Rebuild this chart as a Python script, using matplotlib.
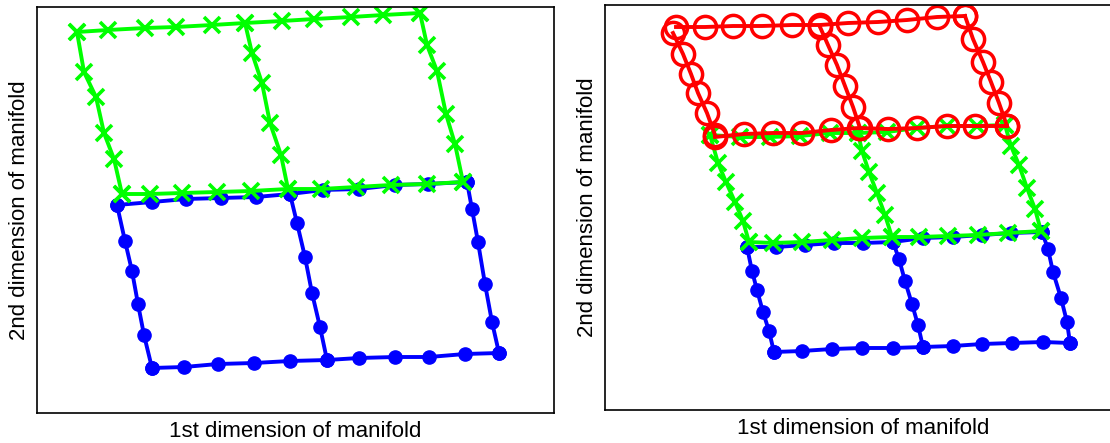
import matplotlib.pyplot as plt

plt.rcParams['font.family'] = ['Liberation Sans', 'DejaVu Sans']

# each shape: five polylines -> top row, bottom row, left / middle / right column
# left panel, blue dots
lb_x = [[117, 152, 186, 221, 256, 290, 323, 359, 395, 428, 467],
        [152, 184, 218, 254, 290, 327, 359, 395, 429, 465, 499],
        [117, 125, 132, 138, 144, 152],
        [290, 297, 305, 312, 320, 327],
        [467, 472, 478, 485, 492, 499]]
lb_y = [[205, 202, 199, 198, 197, 194, 190, 189, 185, 184, 182],
        [368, 367, 364, 363, 361, 360, 358, 357, 357, 354, 353],
        [205, 241, 271, 304, 335, 368],
        [194, 223, 257, 293, 327, 360],
        [182, 209, 242, 284, 322, 353]]

# left panel, green crosses
lg_x = [[77, 108, 145, 176, 212, 245, 282, 314, 351, 383, 420],
        [122, 150, 182, 217, 251, 288, 321, 356, 391, 427, 463],
        [77, 84, 96, 104, 114, 122],
        [245, 252, 262, 270, 281, 288],
        [420, 427, 437, 446, 455, 463]]
lg_y = [[32, 30, 28, 27, 25, 23, 21, 19, 17, 15, 13],
        [194, 194, 193, 192, 191, 189, 189, 187, 185, 184, 182],
        [32, 72, 97, 133, 159, 194],
        [23, 53, 83, 123, 155, 189],
        [13, 45, 71, 114, 144, 182]]

# right panel, blue dots
rb_x = [[747, 776, 805, 834, 863, 893, 923, 953, 982, 1011, 1042],
        [774, 802, 832, 862, 893, 923, 953, 982, 1012, 1043, 1070],
        [747, 752, 757, 763, 769, 774],
        [893, 899, 905, 912, 918, 923],
        [1042, 1048, 1053, 1061, 1067, 1070]]
rb_y = [[247, 247, 245, 243, 243, 242, 238, 237, 235, 233, 232],
        [352, 351, 349, 348, 348, 347, 346, 344, 343, 342, 343],
        [247, 271, 290, 312, 331, 352],
        [242, 259, 281, 304, 325, 347],
        [232, 249, 272, 298, 322, 343]]

# right panel, green crosses
rg_x = [[710, 740, 770, 800, 830, 858, 887, 917, 947, 977, 1005],
        [749, 773, 802, 832, 862, 892, 919, 948, 978, 1008, 1041],
        [710, 718, 726, 735, 743, 749],
        [858, 862, 869, 877, 885, 892],
        [1005, 1011, 1019, 1027, 1035, 1041]]
rg_y = [[135, 137, 137, 136, 133, 133, 132, 128, 126, 126, 125],
        [242, 243, 242, 240, 238, 237, 237, 236, 235, 233, 231],
        [135, 163, 182, 202, 221, 242],
        [133, 151, 172, 193, 215, 237],
        [125, 146, 165, 188, 209, 231]]

# right panel, red circles
rr_x = [[676, 705, 733, 762, 792, 820, 848, 878, 907, 937, 965],
        [715, 744, 773, 802, 831, 859, 888, 917, 947, 975, 1007],
        [673, 683, 691, 698, 707, 715],
        [820, 828, 837, 845, 853, 860],
        [965, 973, 983, 991, 999, 1007]]
rr_y = [[27, 27, 26, 26, 25, 25, 23, 22, 20, 17, 16],
        [137, 134, 133, 133, 130, 128, 129, 128, 126, 126, 126],
        [33, 54, 74, 93, 113, 135],
        [27, 45, 65, 86, 107, 128],
        [16, 39, 62, 82, 103, 126]]

W, H = 1110, 443
fig = plt.figure(figsize=(W / 100, H / 100), dpi=100)
ax1 = fig.add_axes([37 / W, (H - 413) / H, 517 / W, 406 / H])
ax2 = fig.add_axes([605 / W, (H - 410) / H, 517 / W, 405.5 / H])

blue = dict(color=(0, 0, 1), marker='o', markersize=9.5, linewidth=2.8)
green = dict(color=(0, 1, 0), marker='x', markersize=12, markeredgewidth=2.6, linewidth=2.8)
red = dict(color=(1, 0, 0), marker='o', markersize=16, markerfacecolor='none',
           markeredgewidth=2.5, linewidth=2.8)


def draw(ax, xs, ys, style):
    for x, y in zip(xs, ys):
        ax.plot(x, y, **style)


draw(ax1, lb_x, lb_y, blue)
draw(ax1, lg_x, lg_y, green)
draw(ax2, rb_x, rb_y, blue)
draw(ax2, rg_x, rg_y, green)
draw(ax2, rr_x, rr_y, red)

ax1.set_xlim(37, 554)
ax1.set_ylim(413, 7)
ax2.set_xlim(605, 1122)
ax2.set_ylim(410, 4.5)

for ax in (ax1, ax2):
    ax.set_xticks([])
    ax.set_yticks([])
    for s in ax.spines.values():
        s.set_linewidth(1.2)
    ax.set_xlabel("1st dimension of manifold", fontsize=16, labelpad=6)
    ax.set_ylabel("2nd dimension of manifold", fontsize=16, labelpad=5)

fig.savefig("out.png", dpi=100)
